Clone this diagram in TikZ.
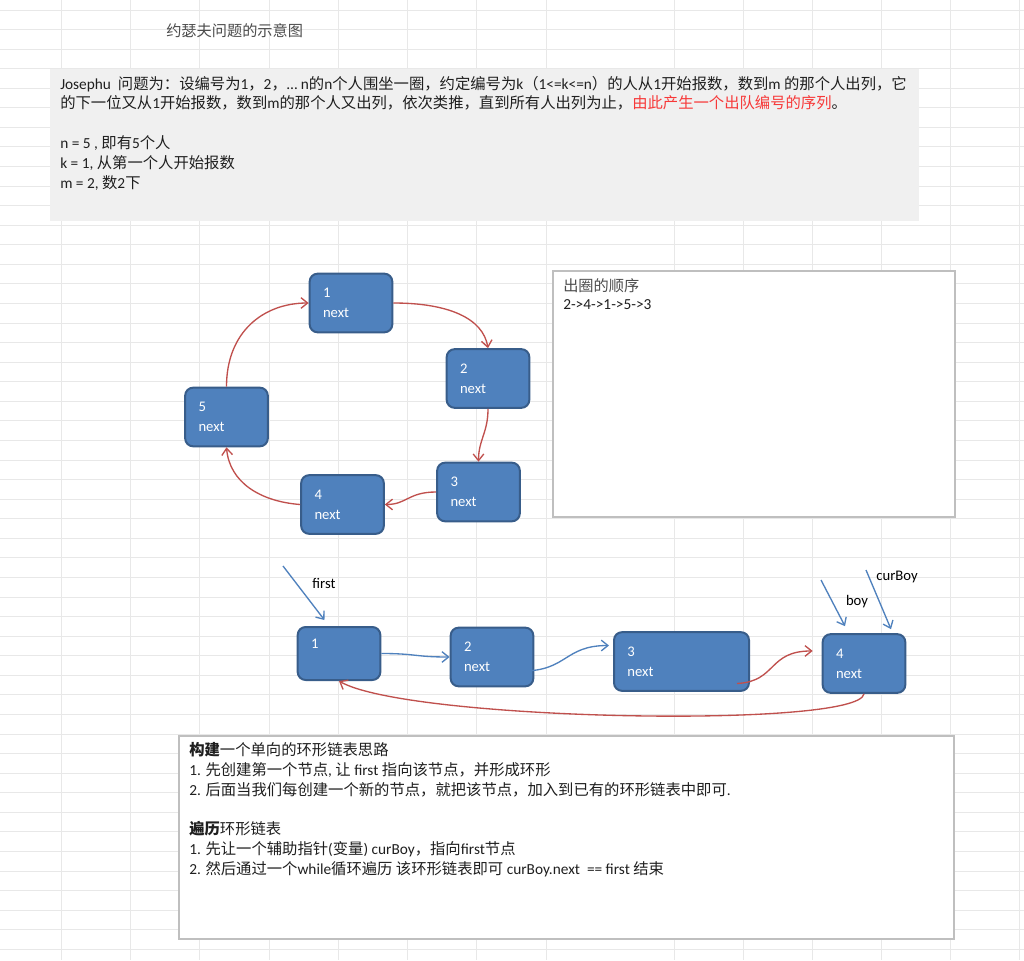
\documentclass[tikz,border=0pt]{standalone}
\usepackage{fontspec}
\setmainfont{Carlito}
\newfontfamily\zhfont{Noto Sans CJK SC}
\newcommand{\zh}[1]{{\zhfont #1}}
\usepackage{tikz}
\usetikzlibrary{arrows.meta}
\definecolor{nblue}{rgb}{0.31, 0.506, 0.741}
\definecolor{nborder}{rgb}{0.22, 0.365, 0.541}
\definecolor{nred}{rgb}{0.753, 0.314, 0.302}
\definecolor{tred}{rgb}{0.97, 0.22, 0.22}
\definecolor{gridgray}{rgb}{0.91, 0.91, 0.91}
\definecolor{panelgray}{rgb}{0.941, 0.941, 0.941}
\definecolor{framegray}{rgb}{0.75, 0.75, 0.75}
\definecolor{tgray}{rgb}{0.3, 0.3, 0.3}
\tikzset{cell/.style = {draw = gridgray, line width = 0.75pt}}
\tikzset{frame/.style = {draw = framegray, fill = white, line width = 1.1pt}}
\tikzset{box/.style = {draw = nborder, fill = nblue, line width = 1.5pt, rounded corners = 6pt,
    text = white, align = left, text width = 42pt, inner xsep = 10pt, inner ysep = 0pt,
    minimum height = 44pt, font = \fontsize{11}{15}\selectfont}}
\tikzset{redarr/.style = {draw = nred, line width = 1pt, -{Straight Barb[length = 5pt, width = 8pt]}}}
\tikzset{bluearr/.style = {draw = nblue, line width = 1pt, -{Straight Barb[length = 5pt, width = 8pt]}}}
\tikzset{txt/.style = {anchor = west, inner sep = 0, text = black!88, font = \fontsize{11.5}{15}\selectfont}}
\tikzset{lbl/.style = {inner sep = 0, font = \fontsize{11}{15}\selectfont}}

\begin{document}
\begin{tikzpicture}[x = 0.75pt, y = -0.75pt]
    \useasboundingbox (0, 0) rectangle (1024, 960);
    \fill [white] (0, 0) rectangle (1024, 960);
    \foreach \x in {61, 130, 199, 269, 338, 407, 476, 546, 674, 743, 812, 881, 950, 1019}
      \draw [cell] (\x, 0) -- (\x, 960);
    \foreach \k in {0, ..., 48}
      \draw [cell] (0, {10 + 19.57 * \k}) -- (1024, {10 + 19.57 * \k});

    \node [txt, text = tgray, font = \fontsize{11.4}{15}\selectfont] (title) at (166, 31) {\zh{约瑟夫问题的示意图}};

    \fill [panelgray] (50, 69) rectangle (919, 221);
    \node [txt] (rule1) at (60, 84) {Josephu\ \ \zh{问题为：设编号为}1\zh{，}2\zh{，}… n\zh{的}n\zh{个人围坐一圈，约定编号为}k\zh{（}1<=k<=n\zh{）的人从}1\zh{开始报数，数到}m \zh{的那个人出列，它}};
    \node [txt] (rule2) at (60, 103) {\zh{的下一位又从}1\zh{开始报数，数到}m\zh{的那个人又出列，依次类推，直到所有人出列为止，}\textcolor{tred}{\zh{由此产生一个出队编号的序列}}\zh{。}};
    \node [txt] (valn) at (60, 143) {n = 5 , \zh{即有}5\zh{个人}};
    \node [txt] (valk) at (60, 163) {k = 1, \zh{从第一个人开始报数}};
    \node [txt] (valm) at (60, 183) {m = 2, \zh{数}2\zh{下}};

    \node [box] (r1) at (351, 303) {1\\next};
    \node [box] (r2) at (488, 378.5) {2\\next};
    \node [box] (r3) at (478.5, 492) {3\\next};
    \node [box] (r4) at (342.5, 504.5) {4\\next};
    \node [box] (r5) at (226.5, 417) {5\\next};
    \draw [redarr] (r1.east) .. controls +(55, 0) and +(-5, -30) .. (r2.north);
    \draw [redarr] (r2.south) .. controls +(0, 24) and +(0, -22) .. (r3.north);
    \draw [redarr] (r3.west) .. controls +(-28, 0) and +(22, 0) .. (r4.east);
    \draw [redarr] (r4.west) .. controls +(-40, -3) and +(3, 35) .. (r5.south);
    \draw [redarr] (r5.north) .. controls +(0, -55) and +(-45, 0) .. (r1.west);

    \draw [frame] (553, 271) rectangle (955, 517);
    \node [txt, text = tgray, font = \fontsize{11.4}{15}\selectfont] (ordtitle) at (563, 286) {\zh{出圈的顺序}};
    \node [txt] (ordseq) at (563, 305) {2->4->1->5->3};

    \node [box, minimum height = 39.75pt] (b1) at (339, 653.5) {1\\\phantom{next}};
    \node [box] (b2) at (492, 657) {2\\next};
    \node [box, text width = 81.25pt] (b3) at (681.5, 661.5) {3\\next};
    \node [box] (b4) at (864, 663.5) {4\\next};
    \draw [bluearr] (b1.east) .. controls +(35, 0) and +(-35, 0) .. (b2.west);
    \draw [bluearr] ([xshift = -9pt, yshift = -10.5pt]b2.east) .. controls +(45, 0) and +(-45, 0) .. ([xshift = -3pt, yshift = 12pt]b3.west);
    \draw [redarr] ([xshift = -9.75pt, yshift = -16.5pt]b3.east) .. controls +(40, -2) and +(-45, 0) .. ([xshift = -6.75pt, yshift = 9.4pt]b4.west);
    \draw [redarr] (b4.south) .. controls +(-5, 35) and +(70, 40) .. (b1.south);

    \coordinate (pfirst) at (283, 566);
    \coordinate (pboy) at (821, 580);
    \coordinate (pcur) at (866, 570);
    \draw [bluearr] (pfirst) -- ([xshift = -10.9pt, yshift = 4.5pt]b1.north);
    \draw [bluearr] (pboy) -- ([xshift = -14.25pt, yshift = 5.25pt]b4.north);
    \draw [bluearr] (pcur) -- ([xshift = 20.25pt, yshift = 3pt]b4.north);
    \node [lbl] (lfirst) at (324, 583) {first};
    \node [lbl] (lboy) at (857, 602) {boy};
    \node [lbl] (lcur) at (897, 577) {curBoy};

    \draw [frame] (179, 736) rectangle (954, 939);
    \node [txt] (build) at (189, 750) {\textbf{\zh{构建}}\zh{一个单向的环形链表思路}};
    \node [txt] (build1) at (189, 770) {1. \zh{先创建第一个节点}, \zh{让} first \zh{指向该节点，并形成环形}};
    \node [txt] (build2) at (189, 790) {2. \zh{后面当我们每创建一个新的节点，就把该节点，加入到已有的环形链表中即可}.};
    \node [txt] (walk) at (189, 829) {\textbf{\zh{遍历}}\zh{环形链表}};
    \node [txt] (walk1) at (189, 849) {1. \zh{先让一个辅助指针}(\zh{变量}) curBoy\zh{，指向}first\zh{节点}};
    \node [txt] (walk2) at (189, 869) {2. \zh{然后通过一个}while\zh{循环遍历 该环形链表即可} curBoy.next\ \ == first \zh{结束}};
  \end{tikzpicture}
\end{document}
